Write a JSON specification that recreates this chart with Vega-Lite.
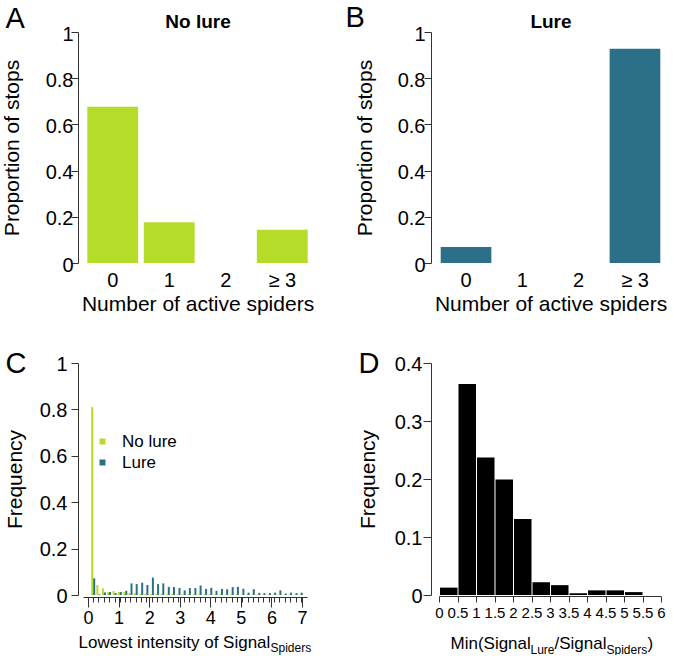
{
  "$schema": "https://vega.github.io/schema/vega-lite/v6.json",
  "padding": {"left": 0, "top": 3, "right": 0, "bottom": 0},
  "bounds": "flush",
  "align": "each",
  "columns": 2,
  "spacing": {"row": 100, "column": 127},
  "resolve": {"scale": {"color": "independent"}},
  "concat": [
    {
      "width": 229,
      "height": 231,
      "data": {"values": [
        {"spiders": "0", "p": 0.676},
        {"spiders": "1", "p": 0.176},
        {"spiders": "2", "p": 0},
        {"spiders": "≥ 3", "p": 0.144}
      ]},
      "encoding": {
        "x": {"field": "spiders", "type": "ordinal", "sort": null,
          "scale": {"paddingInner": 0.1, "paddingOuter": 0.076},
          "axis": {"labelAngle": 0, "domain": false, "ticks": false, "labelPadding": 7, "labelFontSize": 20,
            "title": "Number of active spiders", "titleFontSize": 21, "titleBaseline": "alphabetic", "titleY": 47}},
        "y": {"field": "p", "type": "quantitative", "scale": {"domain": [0, 1]},
          "axis": {"values": [0, 0.2, 0.4, 0.6, 0.8, 1], "format": "~g", "offset": 5, "tickSize": 7, "labelPadding": -2, "labelOffset": 2, "labelFontSize": 20,
            "title": "Proportion of stops", "titleFontSize": 21, "titleX": -60, "titleBaseline": "alphabetic"}}
      },
      "layer": [
        {"mark": {"type": "bar", "color": "#b6dc2a"}},
        {
          "mark": {"type": "bar", "opacity": 0},
          "encoding": {
            "x": {"field": "spiders", "type": "ordinal", "sort": null,
              "axis": {"orient": "top", "domain": false, "ticks": false, "labels": false,
                "title": "No lure", "titleFontWeight": "bold", "titleFontSize": 19, "titleBaseline": "alphabetic", "titleY": -5}},
            "y": {"field": "p", "type": "quantitative",
              "axis": {"orient": "right", "domain": false, "ticks": false, "labels": false,
                "title": "A", "titleAngle": 0, "titleFontSize": 29, "titleAlign": "left", "titleBaseline": "alphabetic", "titleX": -307, "titleY": -5}}
          }
        }
      ],
      "resolve": {"axis": {"x": "independent", "y": "independent"}}
    },
    {
      "width": 223,
      "height": 231,
      "data": {"values": [
        {"spiders": "0", "p": 0.069},
        {"spiders": "1", "p": 0},
        {"spiders": "2", "p": 0},
        {"spiders": "≥ 3", "p": 0.928}
      ]},
      "encoding": {
        "x": {"field": "spiders", "type": "ordinal", "sort": null,
          "scale": {"paddingInner": 0.1, "paddingOuter": 0.03},
          "axis": {"labelAngle": 0, "domain": false, "ticks": false, "labelPadding": 7, "labelFontSize": 20,
            "title": "Number of active spiders", "titleFontSize": 21, "titleBaseline": "alphabetic", "titleY": 47}},
        "y": {"field": "p", "type": "quantitative", "scale": {"domain": [0, 1]},
          "axis": {"values": [0, 0.2, 0.4, 0.6, 0.8, 1], "format": "~g", "offset": 8, "tickSize": 7, "labelPadding": -1, "labelOffset": 2, "labelFontSize": 20,
            "title": "Proportion of stops", "titleFontSize": 21, "titleX": -60, "titleBaseline": "alphabetic"}}
      },
      "layer": [
        {"mark": {"type": "bar", "color": "#2c6f88"}},
        {
          "mark": {"type": "bar", "opacity": 0},
          "encoding": {
            "x": {"field": "spiders", "type": "ordinal", "sort": null,
              "axis": {"orient": "top", "domain": false, "ticks": false, "labels": false,
                "title": "Lure", "titleFontWeight": "bold", "titleFontSize": 19, "titleBaseline": "alphabetic", "titleY": -5}},
            "y": {"field": "p", "type": "quantitative",
              "axis": {"orient": "right", "domain": false, "ticks": false, "labels": false,
                "title": "B", "titleAngle": 0, "titleFontSize": 29, "titleAlign": "left", "titleBaseline": "alphabetic", "titleX": -317, "titleY": -6}}
          }
        }
      ],
      "resolve": {"axis": {"x": "independent", "y": "independent"}}
    },
    {
      "width": 224,
      "height": 232,
      "data": {"values": [
        {"x": 0.17, "nolure": 0.81, "lure": 0.072},
        {"x": 0.34, "nolure": 0.043, "lure": 0.003},
        {"x": 0.52, "nolure": 0.029, "lure": 0.011},
        {"x": 0.69, "nolure": 0.012, "lure": 0.013},
        {"x": 0.87, "nolure": 0.017, "lure": 0.008},
        {"x": 1.04, "nolure": 0.013, "lure": 0.013},
        {"x": 1.22, "nolure": 0.012, "lure": 0.018},
        {"x": 1.39, "nolure": 0.008, "lure": 0.05},
        {"x": 1.56, "nolure": 0.008, "lure": 0.047},
        {"x": 1.74, "nolure": 0.004, "lure": 0.053},
        {"x": 1.91, "nolure": 0.006, "lure": 0.043},
        {"x": 2.09, "nolure": 0.004, "lure": 0.075},
        {"x": 2.26, "nolure": 0.004, "lure": 0.047},
        {"x": 2.43, "nolure": 0.004, "lure": 0.05},
        {"x": 2.61, "nolure": 0.003, "lure": 0.035},
        {"x": 2.78, "nolure": 0.004, "lure": 0.034},
        {"x": 2.96, "nolure": 0.003, "lure": 0.03},
        {"x": 3.13, "nolure": 0.003, "lure": 0.02},
        {"x": 3.3, "nolure": 0.003, "lure": 0.03},
        {"x": 3.48, "nolure": 0.003, "lure": 0.03},
        {"x": 3.65, "nolure": 0.003, "lure": 0.041},
        {"x": 3.83, "nolure": 0.002, "lure": 0.026},
        {"x": 4.0, "nolure": 0.003, "lure": 0.031},
        {"x": 4.17, "nolure": 0.002, "lure": 0.018},
        {"x": 4.35, "nolure": 0.003, "lure": 0.026},
        {"x": 4.52, "nolure": 0.002, "lure": 0.025},
        {"x": 4.7, "nolure": 0.003, "lure": 0.034},
        {"x": 4.87, "nolure": 0.002, "lure": 0.035},
        {"x": 5.05, "nolure": 0.002, "lure": 0.027},
        {"x": 5.22, "nolure": 0.002, "lure": 0.01},
        {"x": 5.39, "nolure": 0.002, "lure": 0.025},
        {"x": 5.57, "nolure": 0.002, "lure": 0.009},
        {"x": 5.74, "nolure": 0.002, "lure": 0.008},
        {"x": 5.92, "nolure": 0.002, "lure": 0.008},
        {"x": 6.09, "nolure": 0.002, "lure": 0.01},
        {"x": 6.26, "nolure": 0.002, "lure": 0.02},
        {"x": 6.44, "nolure": 0.002, "lure": 0.006},
        {"x": 6.61, "nolure": 0.002, "lure": 0.01},
        {"x": 6.79, "nolure": 0.002, "lure": 0.008},
        {"x": 6.96, "nolure": 0.002, "lure": 0.01}
      ]},
      "layer": [
        {
          "mark": {"type": "bar", "size": 2, "xOffset": -1},
          "encoding": {
            "x": {"field": "x", "type": "quantitative", "scale": {"domain": [0, 7], "nice": false},
              "axis": {"values": [0, 1, 2, 3, 4, 5, 6, 7], "offset": 2, "tickSize": 10, "labelFontSize": 18, "labelPadding": 2,
                "title": "Lowest intensity of Signal", "titleFontSize": 17, "titleAlign": "left", "titleX": -5, "titleY": 50, "titleBaseline": "alphabetic"}},
            "y": {"field": "nolure", "type": "quantitative", "scale": {"domain": [0, 1]},
              "axis": {"values": [0, 0.2, 0.4, 0.6, 0.8, 1], "format": "~g", "offset": 5, "tickSize": 7, "labelPadding": 4, "labelOffset": 1, "labelFontSize": 20,
                "title": "Frequency", "titleFontSize": 21, "titleX": -57, "titleBaseline": "alphabetic"}},
            "color": {"datum": "No lure", "type": "nominal",
              "scale": {"domain": ["No lure", "Lure"], "range": ["#b6dc2a", "#2c6f88"]},
              "legend": {"orient": "none", "legendX": 11, "legendY": 70, "title": null, "symbolType": "square", "symbolSize": 36,
                "labelFontSize": 17, "labelOffset": 11, "rowPadding": 3, "direction": "vertical"}}
          }
        },
        {
          "mark": {"type": "bar", "size": 2, "xOffset": 1},
          "encoding": {
            "x": {"field": "x", "type": "quantitative",
              "axis": {"values": [0.17, 0.34, 0.52, 0.69, 0.87, 1.04, 1.22, 1.39, 1.56, 1.74, 1.91, 2.09, 2.26, 2.43, 2.61, 2.78, 2.96, 3.13, 3.3, 3.48, 3.65, 3.83, 4.0, 4.17, 4.35, 4.52, 4.7, 4.87, 5.05, 5.22, 5.39, 5.57, 5.74, 5.92, 6.09, 6.26, 6.44, 6.61, 6.79, 6.96],
                "orient": "bottom", "offset": 2, "tickSize": 5, "labels": false, "domain": false,
                "title": "Spiders", "titleFontSize": 12, "titleAlign": "left", "titleX": 187, "titleY": 54, "titleBaseline": "alphabetic"}},
            "y": {"field": "lure", "type": "quantitative",
              "axis": {"orient": "right", "domain": false, "ticks": false, "labels": false,
                "title": "C", "titleAngle": 0, "titleFontSize": 29, "titleAlign": "left", "titleBaseline": "alphabetic", "titleX": -302, "titleY": 9}},
            "color": {"datum": "Lure", "type": "nominal"}
          }
        }
      ],
      "resolve": {"axis": {"x": "independent", "y": "independent"}}
    },
    {
      "width": 222,
      "height": 232,
      "data": {"values": [
        {"lo": 0, "hi": 0.5, "f": 0.0127},
        {"lo": 0.5, "hi": 1, "f": 0.364},
        {"lo": 1, "hi": 1.5, "f": 0.237},
        {"lo": 1.5, "hi": 2, "f": 0.199},
        {"lo": 2, "hi": 2.5, "f": 0.131},
        {"lo": 2.5, "hi": 3, "f": 0.022},
        {"lo": 3, "hi": 3.5, "f": 0.017},
        {"lo": 3.5, "hi": 4, "f": 0.003},
        {"lo": 4, "hi": 4.5, "f": 0.008},
        {"lo": 4.5, "hi": 5, "f": 0.008},
        {"lo": 5, "hi": 5.5, "f": 0.005},
        {"lo": 5.5, "hi": 6, "f": 0}
      ]},
      "encoding": {
        "x": {"field": "lo", "type": "quantitative", "bin": "binned", "scale": {"domain": [0, 6], "nice": false},
          "axis": {"values": [0, 0.5, 1, 1.5, 2, 2.5, 3, 3.5, 4, 4.5, 5, 5.5, 6], "format": "~g", "offset": 1, "tickSize": 6, "labelFontSize": 15, "labelPadding": 3,
            "title": "Min(Signal", "titleFontSize": 17, "titleAlign": "left", "titleX": 11, "titleY": 52, "titleBaseline": "alphabetic"}},
        "x2": {"field": "hi"},
        "y": {"field": "f", "type": "quantitative", "scale": {"domain": [0, 0.4]},
          "axis": {"values": [0, 0.1, 0.2, 0.3, 0.4], "format": "~g", "offset": 8, "tickSize": 8, "labelPadding": 1, "labelOffset": 1, "labelFontSize": 20,
            "title": "Frequency", "titleFontSize": 21, "titleX": -57, "titleBaseline": "alphabetic"}}
      },
      "layer": [
        {"mark": {"type": "bar", "color": "#000", "binSpacing": 1}},
        {
          "mark": {"type": "bar", "opacity": 0},
          "encoding": {
            "x": {"field": "lo", "type": "quantitative", "bin": "binned",
              "axis": {"orient": "bottom", "offset": 1, "domain": false, "ticks": false, "labels": false,
                "title": "Lure", "titleFontSize": 12, "titleAlign": "left", "titleX": 91, "titleY": 57, "titleBaseline": "alphabetic"}},
            "y": {"field": "f", "type": "quantitative",
              "axis": {"orient": "right", "domain": false, "ticks": false, "labels": false,
                "title": "D", "titleAngle": 0, "titleFontSize": 29, "titleAlign": "left", "titleBaseline": "alphabetic", "titleX": -303, "titleY": 9}}
          }
        },
        {
          "mark": {"type": "bar", "opacity": 0},
          "encoding": {
            "x": {"field": "lo", "type": "quantitative", "bin": "binned",
              "axis": {"orient": "bottom", "offset": 1, "domain": false, "ticks": false, "labels": false,
                "title": "/Signal", "titleFontSize": 17, "titleAlign": "left", "titleX": 115, "titleY": 52, "titleBaseline": "alphabetic"}},
            "y": {"field": "f", "type": "quantitative", "axis": null}
          }
        },
        {
          "mark": {"type": "bar", "opacity": 0},
          "encoding": {
            "x": {"field": "lo", "type": "quantitative", "bin": "binned",
              "axis": {"orient": "bottom", "offset": 1, "domain": false, "ticks": false, "labels": false,
                "title": "Spiders", "titleFontSize": 12, "titleAlign": "left", "titleX": 167, "titleY": 57, "titleBaseline": "alphabetic"}},
            "y": {"field": "f", "type": "quantitative", "axis": null}
          }
        },
        {
          "mark": {"type": "bar", "opacity": 0},
          "encoding": {
            "x": {"field": "lo", "type": "quantitative", "bin": "binned",
              "axis": {"orient": "bottom", "offset": 1, "domain": false, "ticks": false, "labels": false,
                "title": ")", "titleFontSize": 17, "titleAlign": "left", "titleX": 208, "titleY": 52, "titleBaseline": "alphabetic"}},
            "y": {"field": "f", "type": "quantitative", "axis": null}
          }
        }
      ],
      "resolve": {"axis": {"x": "independent", "y": "independent"}}
    }
  ],
  "config": {
    "font": "Liberation Sans",
    "view": {"stroke": null},
    "axis": {"grid": false, "domainColor": "#333", "tickColor": "#333", "labelColor": "#000", "titleColor": "#000",
      "titleFontWeight": "normal", "labelFlush": false, "labelOverlap": false, "labelFont": "Liberation Sans", "titleFont": "Liberation Sans"},
    "legend": {"labelFont": "Liberation Sans", "labelColor": "#000"},
    "title": {"color": "#000", "font": "Liberation Sans"}
  }
}
